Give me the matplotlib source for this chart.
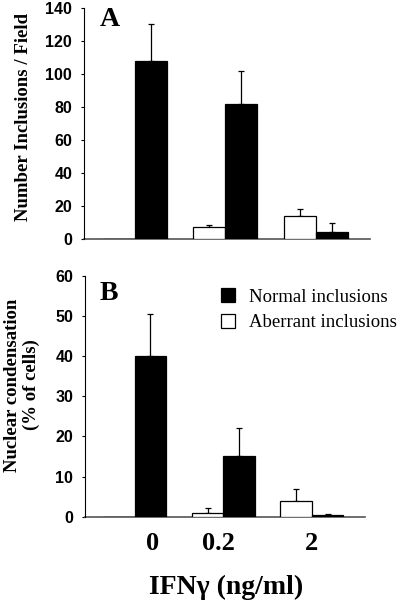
import matplotlib
matplotlib.use('Agg')
import matplotlib.pyplot as plt
import numpy as np

# data
doses = ['0', '0.2', '2']
normal_a = [108, 82, 4.2]
normal_a_err = [22, 19.5, 5.5]
aberrant_a = [0, 7.3, 13.8]
aberrant_a_err = [0, 0.8, 4.5]

normal_b = [40.1, 15.1, 0.3]
normal_b_err = [10.5, 7.0, 0.4]
aberrant_b = [0, 0.8, 3.8]
aberrant_b_err = [0, 1.3, 3.0]

serif = ['Liberation Serif', 'DejaVu Serif']
sans = ['Liberation Sans', 'DejaVu Sans']

fig = plt.figure(figsize=(4.0, 6.06), dpi=100)
ax_a = fig.add_axes([0.21, 0.606, 0.715, 0.381])
ax_b = fig.add_axes([0.2125, 0.1474, 0.70, 0.3973])

x = np.arange(len(doses))
w = 0.355


def draw_panel(ax, normal, normal_err, aberrant, aberrant_err, ymax, step):
    z = np.zeros(len(x))
    ax.bar(x - w / 2, aberrant, w, color='white', edgecolor='black', linewidth=0.9,
           label='Aberrant inclusions', zorder=3)
    ax.bar(x + w / 2, normal, w, color='black', edgecolor='black', linewidth=0.9,
           label='Normal inclusions', zorder=3)
    ax.errorbar(x[1:] - w / 2, np.array(aberrant)[1:], yerr=[z[1:], np.array(aberrant_err)[1:]],
                fmt='none', ecolor='black', elinewidth=0.9, capsize=2, capthick=0.9, zorder=2)
    ax.errorbar(x + w / 2, normal, yerr=[z, normal_err], fmt='none', ecolor='black',
                elinewidth=0.9, capsize=2, capthick=0.9, zorder=2)
    ax.set_xlim(-0.56, 2.6)
    ax.set_ylim(0, ymax)
    ax.set_yticks(np.arange(0, ymax + 1, step))
    for lab in ax.get_yticklabels():
        lab.set_fontfamily(sans)
        lab.set_fontweight('bold')
        lab.set_fontsize(11.5)
    ax.tick_params(axis='y', length=2.5, width=0.8, direction='out', pad=6)
    ax.spines['top'].set_visible(False)
    ax.spines['right'].set_visible(False)
    ax.spines['left'].set_linewidth(0.8)
    ax.spines['bottom'].set_color('#555555')
    ax.spines['bottom'].set_linewidth(1.2)
    ax.spines['left'].set_zorder(4)


draw_panel(ax_a, normal_a, normal_a_err, aberrant_a, aberrant_a_err, 140, 20)
draw_panel(ax_b, normal_b, normal_b_err, aberrant_b, aberrant_b_err, 60, 10)

ax_a.set_xticks([])
ax_b.set_xticks([0.2, 0.95, 2.0])
ax_b.set_xticklabels(doses, fontfamily=serif, fontweight='bold', fontsize=19)
ax_b.tick_params(axis='x', length=0, pad=11)

ax_a.set_ylabel('Number Inclusions / Field', fontfamily=serif, fontweight='bold',
                fontsize=13.5, va='center')
ax_a.yaxis.set_label_coords(-0.21, 0.527)
ax_b.set_ylabel('Nuclear condensation\n(% of cells)', fontfamily=serif, fontweight='bold',
                fontsize=13.5, linespacing=1.15, va='center')
ax_b.yaxis.set_label_coords(-0.225, 0.547)

ax_a.text(0.09, 0.95, 'A', transform=ax_a.transAxes, fontfamily=serif,
          fontweight='bold', fontsize=20, va='center', ha='center')
ax_b.text(0.085, 0.925, 'B', transform=ax_b.transAxes, fontfamily=serif,
          fontweight='bold', fontsize=20, va='center', ha='center')

handles, labels = ax_b.get_legend_handles_labels()
leg = ax_b.legend(handles[::-1], labels[::-1], loc='upper left', bbox_to_anchor=(0.46, 0.98),
                  frameon=False, prop={'family': serif, 'size': 13.5},
                  handlelength=0.75, handleheight=0.75, handletextpad=0.75,
                  labelspacing=0.45, borderaxespad=0)

fig.text(0.565, 0.03, 'IFN\u03b3 (ng/ml)', fontfamily=serif, fontweight='bold',
         fontsize=20, ha='center', va='center')

fig.savefig('out.png', dpi=100)
